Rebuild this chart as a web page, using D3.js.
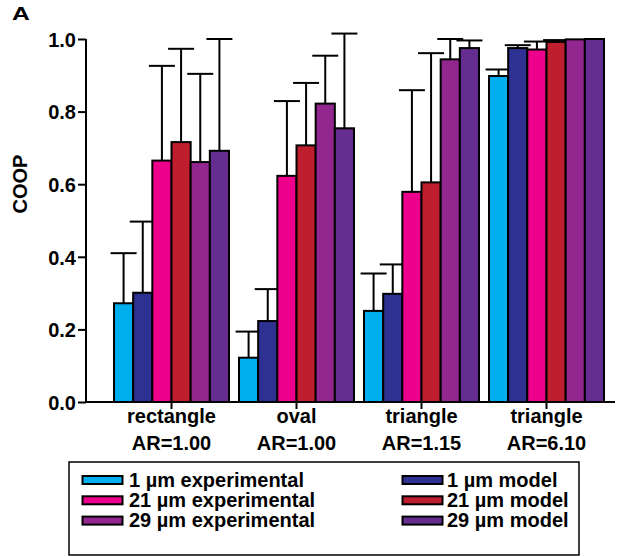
<!DOCTYPE html>
<html><head><meta charset="utf-8">
<script src="https://cdn.jsdelivr.net/npm/d3@7"></script>
<style>
html,body{margin:0;padding:0;background:#fff;}
text{font-family:"Liberation Sans",Arial,Helvetica,sans-serif;font-weight:bold;fill:#000;}
</style></head>
<body><svg id="chart" width="617" height="556"></svg>
<script>
const categories = ["rectangle|AR=1.00", "oval|AR=1.00", "triangle|AR=1.15", "triangle|AR=6.10"];
const seriesNames = ["1 µm experimental", "1 µm model", "21 µm experimental", "21 µm model", "29 µm experimental", "29 µm model"];
const seriesColors = ["#00AEEF", "#2E3192", "#EC008C", "#BE1E2D", "#92278F", "#662D91"];
const exp1 = [0.272, 0.122, 0.251, 0.898];
const exp1Err = [0.138, 0.072, 0.103, 0.018];
const mod1 = [0.301, 0.223, 0.298, 0.975];
const mod1Err = [0.196, 0.088, 0.081, 0.008];
const exp21 = [0.665, 0.623, 0.579, 0.971];
const exp21Err = [0.261, 0.206, 0.280, 0.022];
const mod21 = [0.716, 0.707, 0.605, 0.992];
const mod21Err = [0.257, 0.172, 0.356, 0.005];
const exp29 = [0.661, 0.822, 0.944, 0.999];
const exp29Err = [0.243, 0.132, 0.056, 0.0];
const mod29 = [0.692, 0.754, 0.975, 1.0];
const mod29Err = [0.308, 0.261, 0.021, 0.0];
const yTicks = [0, 0.2, 0.4, 0.6, 0.8, 1.0];

const values = [exp1, mod1, exp21, mod21, exp29, mod29];
const errs = [exp1Err, mod1Err, exp21Err, mod21Err, exp29Err, mod29Err];

const svg = d3.select("#chart");
const x = d3.scaleBand().domain(categories).range([109, 609]).paddingInner(0.08).paddingOuter(0.04);
const xs = d3.scaleBand().domain(d3.range(6)).range([0, x.bandwidth()]);
const y = d3.scaleLinear().domain([0, 1]).range([402, 39]);

const data = [];
categories.forEach((c, ci) => values.forEach((s, si) => data.push({c, si, v: s[ci], e: errs[si][ci]})));

const g = svg.append("g");
g.selectAll("g.err").data(data.filter(d => d.e > 0)).join("g").attr("class", "err").each(function(d) {
  const cx = x(d.c) + xs(d.si) + xs.bandwidth() / 2;
  const sel = d3.select(this);
  sel.append("line").attr("x1", cx).attr("x2", cx).attr("y1", y(d.v)).attr("y2", y(d.v + d.e))
    .attr("stroke", "#000").attr("stroke-width", 2);
  sel.append("line").attr("x1", cx - 13).attr("x2", cx + 13).attr("y1", y(d.v + d.e)).attr("y2", y(d.v + d.e))
    .attr("stroke", "#000").attr("stroke-width", 2);
});
g.selectAll("rect.bar").data(data).join("rect").attr("class", "bar")
  .attr("x", d => x(d.c) + xs(d.si))
  .attr("width", xs.bandwidth())
  .attr("y", d => y(d.v))
  .attr("height", d => y(0) - y(d.v))
  .attr("fill", d => seriesColors[d.si])
  .attr("stroke", "#000").attr("stroke-width", 2);

const yAxis = svg.append("g").attr("transform", "translate(86,0)")
  .call(d3.axisLeft(y).tickValues(yTicks).tickFormat(d3.format(".1f")).tickSize(8).tickPadding(2));
yAxis.select(".domain").attr("d", `M0,${y(1)}V${y(0)}`).attr("stroke-width", 2);
yAxis.selectAll(".tick line").attr("stroke-width", 2);
yAxis.selectAll(".tick text").style("font-size", "20px").attr("dy", "0.36em");

const xAxis = svg.append("g").attr("transform", "translate(0,402)")
  .call(d3.axisBottom(x).tickSize(7).tickFormat(""));
xAxis.select(".domain").attr("d", "M86,0H615").attr("stroke-width", 2);
xAxis.selectAll(".tick line").attr("stroke-width", 2);
categories.forEach(c => {
  const parts = c.split("|");
  const t = svg.append("text").attr("text-anchor", "middle").style("font-size", "20px");
  t.append("tspan").attr("x", x(c) + x.bandwidth() / 2).attr("y", 423).text(parts[0]);
  t.append("tspan").attr("x", x(c) + x.bandwidth() / 2).attr("y", 450).text(parts[1]);
});

svg.append("text").attr("transform", "translate(27,184) rotate(-90)").attr("text-anchor", "middle")
  .style("font-size", "20px").text("COOP");
svg.append("text").attr("x", 12).attr("y", 20.5).style("font-size", "19px")
  .attr("transform", "translate(12,0) scale(1.3,1) translate(-12,0)").text("A");

svg.append("rect").attr("x", 69).attr("y", 462).attr("width", 510).attr("height", 93)
  .attr("fill", "none").attr("stroke", "#000").attr("stroke-width", 1.5);
const legOrder = [0, 2, 4, 1, 3, 5];
legOrder.forEach((si, k) => {
  const col = k < 3 ? 0 : 1, row = k % 3;
  const sx = col === 0 ? 82.5 : 402.5;
  const by = 486.5 + row * 20.3;
  svg.append("rect").attr("x", sx).attr("y", by - 10.5).attr("width", 40).attr("height", 8)
    .attr("fill", seriesColors[si]).attr("stroke", "#000").attr("stroke-width", 2);
  svg.append("text").attr("x", col === 0 ? 129 : 447).attr("y", by).style("font-size", "20px").text(seriesNames[si]);
});
</script></body></html>
